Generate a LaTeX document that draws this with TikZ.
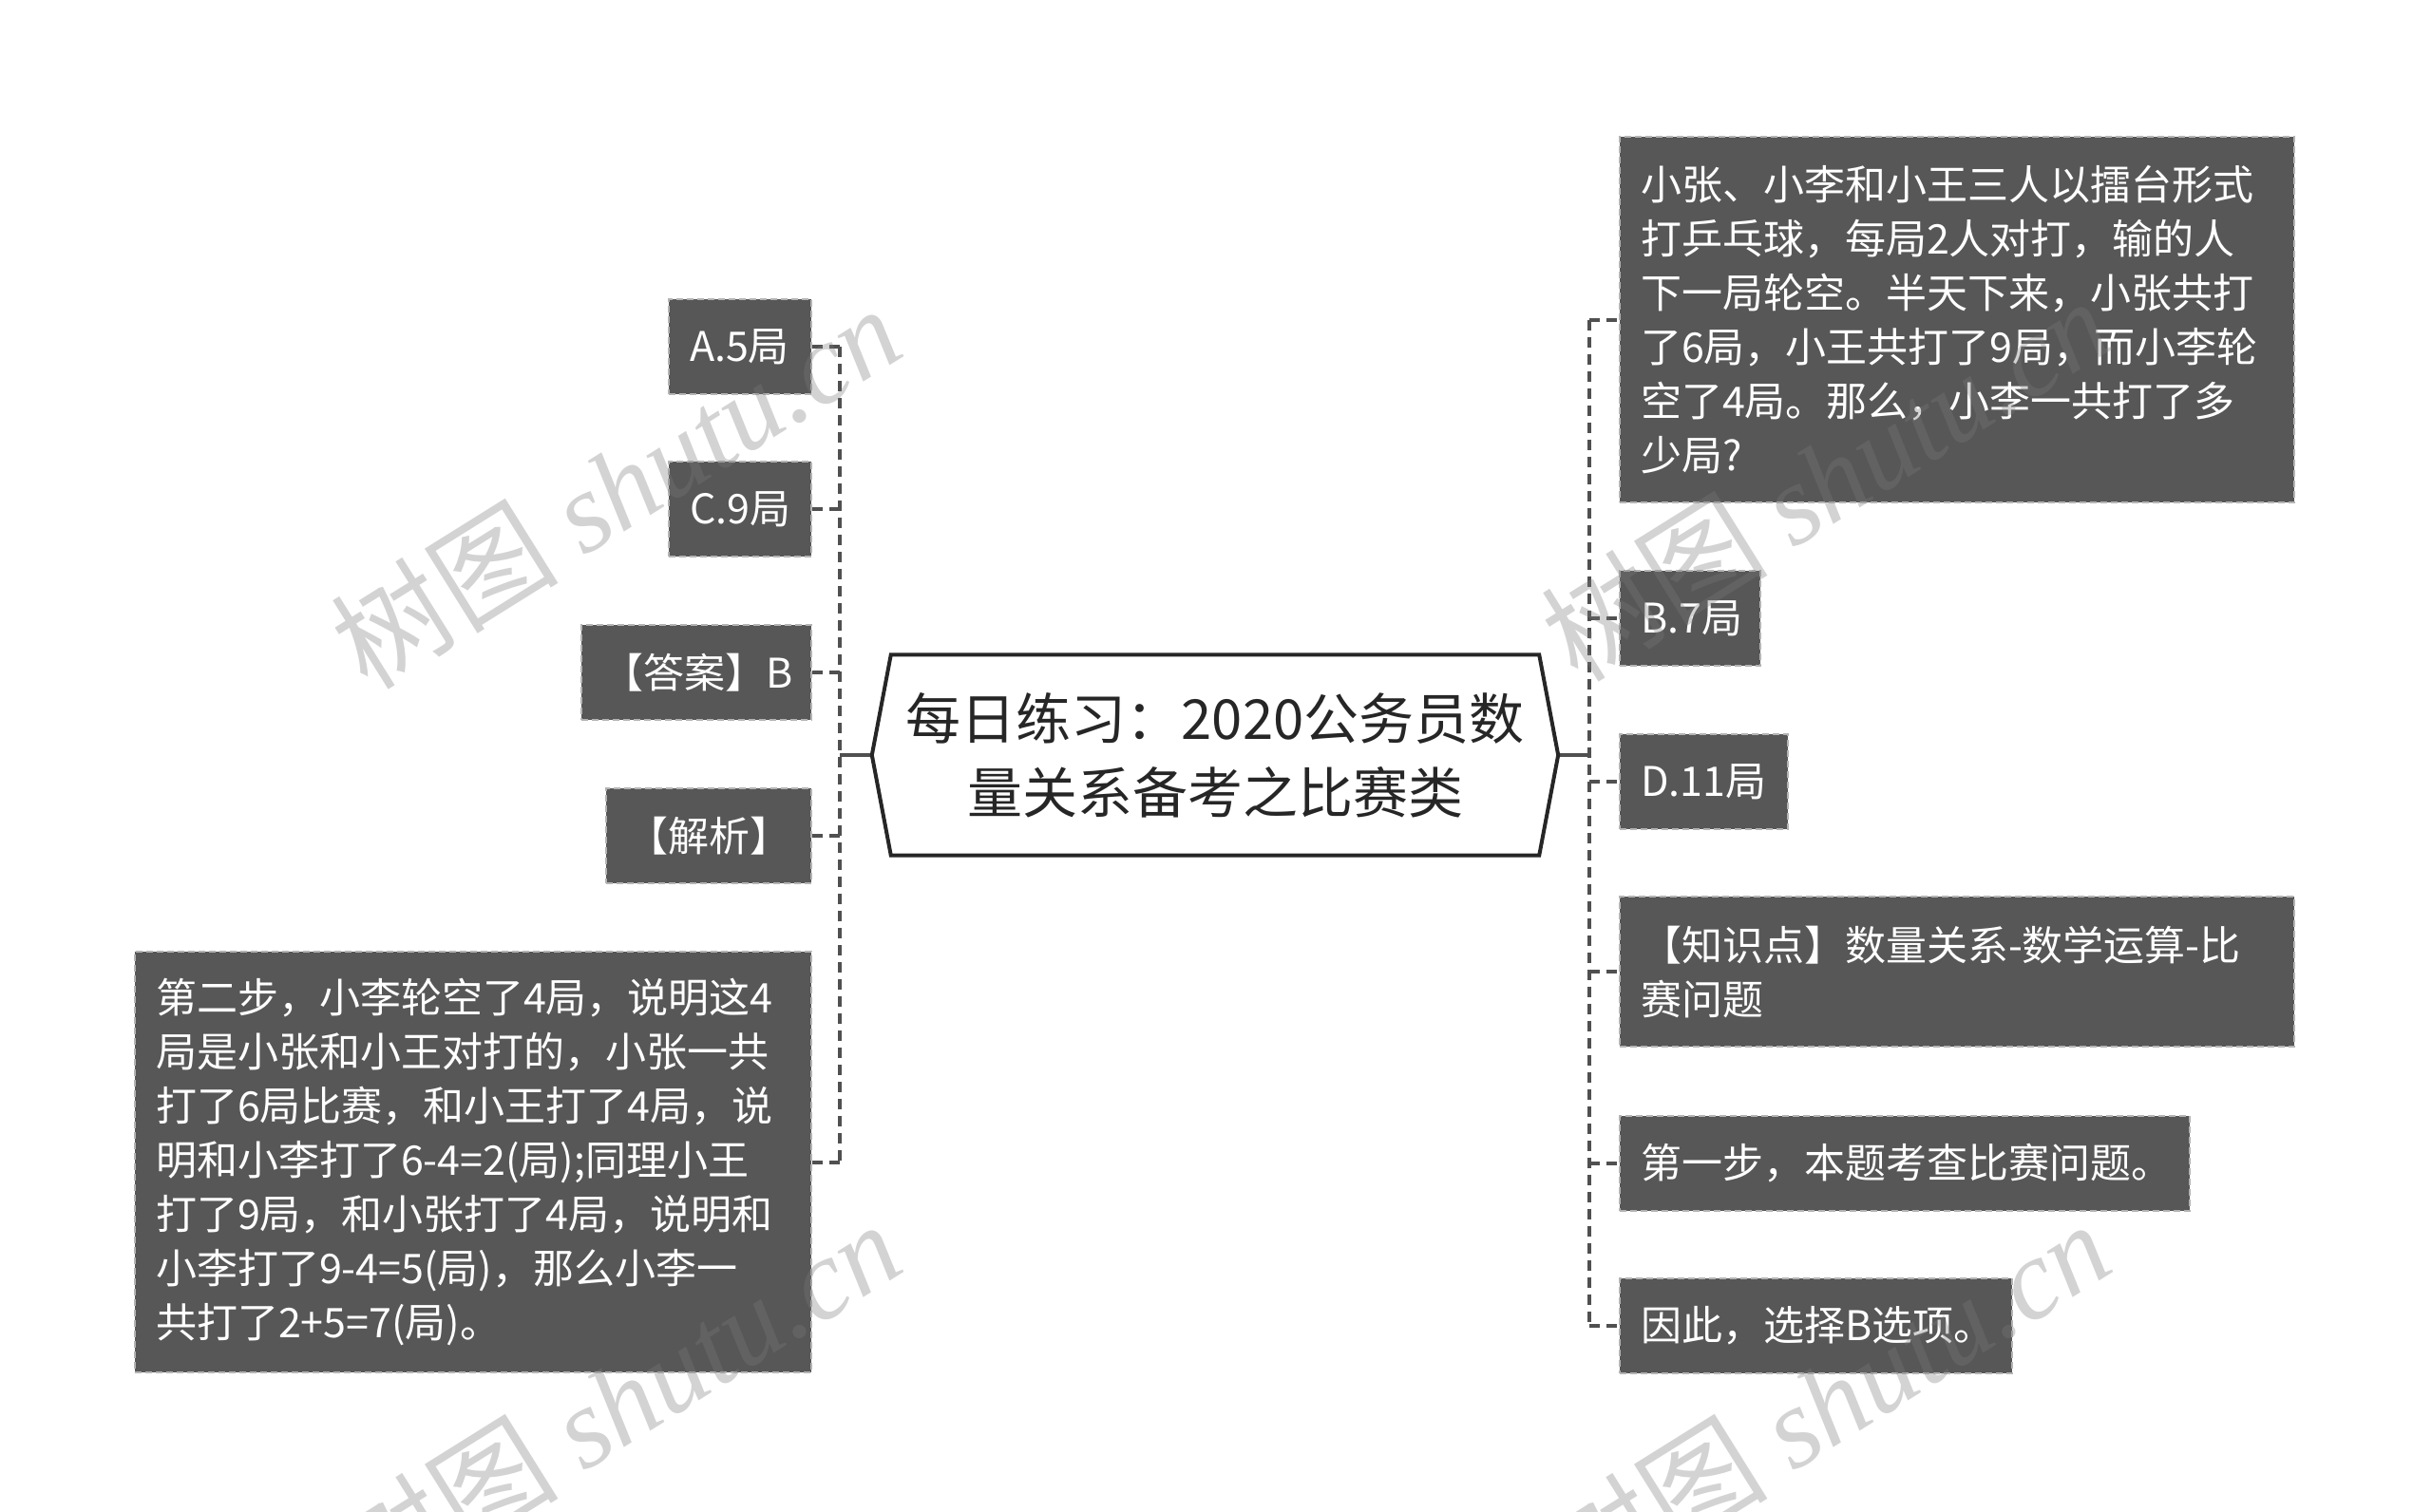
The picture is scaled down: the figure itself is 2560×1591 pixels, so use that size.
\documentclass[tikz,border=0pt]{standalone}
\usepackage{fontspec}
\setmainfont{Noto Sans CJK SC}
\newfontfamily\wmlatin{Liberation Serif}
\newfontfamily\wmcjk{Noto Sans CJK SC}
\definecolor{boxfill}{HTML}{575757}
\definecolor{boxedge}{HTML}{B4B4B4}
\definecolor{connc}{HTML}{505050}
\definecolor{wmc}{HTML}{7A7A7A}
\tikzset{
  leaf/.style={rectangle, fill=boxfill, draw=boxedge, line width=2pt,
    dash pattern=on 7pt off 4pt, text=white,
    font=\fontsize{43}{57}\selectfont, inner xsep=22pt, inner ysep=0pt,
    align=left},
  rootn/.style={rectangle, inner sep=0pt, minimum width=682pt, minimum height=211pt,
    align=center, font=\fontsize{58}{78}\selectfont, text=black!85},
  rootline/.style={draw=black!85, line width=4pt, fill=white, line join=miter},
  conn/.style={draw=connc, line width=4pt, dash pattern=on 11pt off 7pt},
  solidc/.style={draw=connc, line width=3.5pt},
  wm/.style={text=wmc, opacity=0.33, inner sep=0pt}
}
\begin{document}
\begin{tikzpicture}[x=1pt,y=-1pt]
\useasboundingbox (0,0) rectangle (2560,1591);

% coordinates of the two trunks
\coordinate (lt) at (884,795);
\coordinate (rt) at (1673,795);

% left nodes
\node[leaf, minimum width=150pt, text width=106pt, minimum height=100pt] (a) at (779,365) {A.5局};
\node[leaf, minimum width=150pt, text width=106pt, minimum height=100pt] (c) at (779,536) {C.9局};
\node[leaf, minimum width=242pt, text width=198pt, minimum height=100pt] (ans) at (733,708) {【答案】B};
\node[leaf, minimum width=216pt, text width=172pt, minimum height=100pt] (jx) at (746,880) {【解析】};
\node[leaf, minimum width=712pt, text width=668pt, minimum height=443pt] (s2) at (498,1223.5)
 {第二步，小李轮空了4局，说明这4\\局是小张和小王对打的，小张一共\\打了6局比赛，和小王打了4局，说\\明和小李打了6-4=2(局);同理小王\\打了9局，和小张打了4局，说明和\\小李打了9-4=5(局)，那么小李一\\共打了2+5=7(局)。};

% right nodes
\node[leaf, minimum width=710pt, text width=666pt, minimum height=385pt] (q) at (2060,336.5)
 {小张、小李和小王三人以擂台形式\\打乒乓球，每局2人对打，输的人\\下一局轮空。半天下来，小张共打\\了6局，小王共打了9局，而小李轮\\空了4局。那么，小李一共打了多\\少局?};
\node[leaf, minimum width=148pt, text width=104pt, minimum height=100pt] (b) at (1779,651) {B.7局};
\node[leaf, minimum width=177pt, text width=133pt, minimum height=100pt] (d) at (1793.5,823) {D.11局};
\node[leaf, minimum width=710pt, text width=666pt, minimum height=158pt] (k) at (2060,1023)
 {【知识点】数量关系-数学运算-比\\赛问题};
\node[leaf, minimum width=600pt, text width=556pt, minimum height=100pt] (s1) at (2005,1225) {第一步，本题考查比赛问题。};
\node[leaf, minimum width=413pt, text width=369pt, minimum height=100pt] (f) at (1911.5,1396) {因此，选择B选项。};

% root
\node[rootn] (root) at (1279,795) {每日练习：2020公务员数\\量关系备考之比赛类};

% connectors
\draw[conn] (lt |- a.east) -- (lt |- s2.east);
\foreach \n in {a,c,ans,jx,s2} { \draw[conn] (lt |- \n.east) -- (\n.east); }
\draw[conn] (rt |- q.west) -- (rt |- f.west);
\foreach \n in {q,b,d,k,s1,f} { \draw[conn] (rt |- \n.west) -- (\n.west); }
\draw[solidc] ([xshift=-20pt]root.west) -- (lt);
\draw[solidc] ([xshift=20pt]root.east) -- (rt);

% root outline
\draw[rootline] (root.north west) -- (root.north east) -- ([xshift=20pt]root.east)
  -- (root.south east) -- (root.south west) -- ([xshift=-20pt]root.west) -- cycle;
\node[rootn] at (root.center) {每日练习：2020公务员数\\量关系备考之比赛类};

% watermarks
\node[wm, rotate=32] (w1) at (648,512) {\fontsize{120}{130}\wmcjk 树图 \wmlatin\itshape shutu.cn};
\node[wm, rotate=32] (w2) at (1921,504) {\fontsize{120}{130}\wmcjk 树图 \wmlatin\itshape shutu.cn};
\node[wm, rotate=32] (w3) at (648,1476) {\fontsize{120}{130}\wmcjk 树图 \wmlatin\itshape shutu.cn};
\node[wm, rotate=32] (w4) at (1921,1476) {\fontsize{120}{130}\wmcjk 树图 \wmlatin\itshape shutu.cn};
\end{tikzpicture}
\end{document}
